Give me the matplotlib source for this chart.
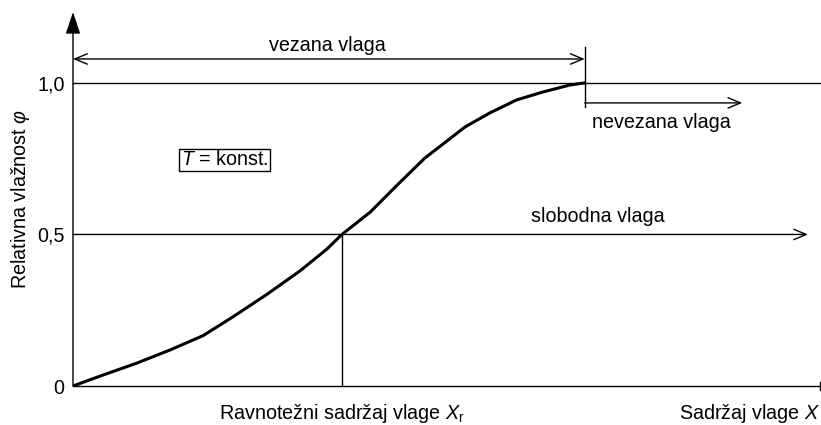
import matplotlib

matplotlib.use("Agg")
import matplotlib.pyplot as plt

plt.rcParams["font.family"] = ["Liberation Sans", "DejaVu Sans"]
plt.rcParams["mathtext.fontset"] = "custom"
plt.rcParams["mathtext.rm"] = "Liberation Sans"
plt.rcParams["mathtext.it"] = "Liberation Sans:italic"

# sorption isotherm (x in arbitrary units 0..10)
curve_x = [0.0, 0.40, 0.86, 1.30, 1.74, 2.14, 2.60, 3.04, 3.40, 3.60,
           3.98, 4.34, 4.71, 5.25, 5.58, 5.94, 6.29, 6.65, 6.85]
curve_y = [0.0, 0.036, 0.076, 0.119, 0.166, 0.228, 0.303, 0.380, 0.452, 0.50,
           0.574, 0.663, 0.752, 0.855, 0.901, 0.944, 0.970, 0.993, 1.0]

x_r = 3.60        # equilibrium moisture content
x_bound = 6.85    # end of bound moisture
y_ticks = [0, 0.5, 1.0]
y_ticklabels = ["0", "0,5", "1,0"]

FS = 14.2
LW = 1.0

fig = plt.figure(figsize=(8.21, 4.25), dpi=100)
ax = fig.add_axes([73 / 821, 1 - 386 / 425, 747 / 821, 374 / 425])
ax.set_xlim(0, 10)
ax.set_ylim(0, 1.234)
for s in ax.spines.values():
    s.set_visible(False)
ax.set_xticks([])
ax.set_yticks(y_ticks)
ax.set_yticklabels(y_ticklabels, fontsize=FS)
ax.tick_params(axis="y", length=0, pad=6)

arrow = dict(arrowstyle="->,head_length=0.6,head_width=0.25", lw=LW,
             color="black", shrinkA=0, shrinkB=0, mutation_scale=15)

# axes
ax.plot([0, 10], [0, 0], color="black", lw=LW, clip_on=False)
ax.plot([10, 10], [-0.012, 0.012], color="black", lw=LW, clip_on=False)
ax.annotate("", xy=(0, 1.234), xytext=(0, 0), annotation_clip=False,
            arrowprops=dict(arrowstyle="-|>,head_length=0.9,head_width=0.3",
                            lw=LW, color="black", shrinkA=0, shrinkB=0,
                            mutation_scale=15))

# reference lines
ax.plot([0, 10], [1.0, 1.0], color="black", lw=LW, clip_on=False)
ax.annotate("", xy=(9.84, 0.5), xytext=(0, 0.5), arrowprops=arrow)
ax.plot([x_r, x_r], [0, 0.5], color="black", lw=LW)
ax.plot([x_bound, x_bound], [0.92, 1.119], color="black", lw=LW)

# isotherm
ax.plot(curve_x, curve_y, color="black", lw=2.2, solid_capstyle="round",
        solid_joinstyle="round")

# bound / unbound moisture arrows
ax.annotate("", xy=(0, 1.079), xytext=(x_bound, 1.079),
            arrowprops=dict(arrow, arrowstyle="<->,head_length=0.6,head_width=0.25"))
ax.annotate("", xy=(8.96, 0.934), xytext=(x_bound, 0.934), arrowprops=arrow)

ax.text(3.41, 1.125, "vezana vlaga", fontsize=FS, ha="center", va="center")
ax.text(6.95, 0.871, "nevezana vlaga", fontsize=FS, ha="left", va="center")
ax.text(7.03, 0.558, "slobodna vlaga", fontsize=FS, ha="center", va="center")
ax.text(2.03, 0.746, r"$T$ = konst.", fontsize=FS, ha="center", va="center",
        bbox=dict(boxstyle="square,pad=0.08", fc="white", ec="black", lw=LW))

ax.text(x_r, -0.09, r"Ravnotežni sadržaj vlage $X_\mathrm{r}$", fontsize=FS,
        ha="center", va="center")
ax.text(10.0, -0.09, r"Sadržaj vlage $X$", fontsize=FS, ha="right", va="center")
ax.set_ylabel(r"Relativna vlažnost $\varphi$", fontsize=FS)
ax.yaxis.set_label_coords(-0.055, 0.5)

fig.savefig("out.png", dpi=100)
